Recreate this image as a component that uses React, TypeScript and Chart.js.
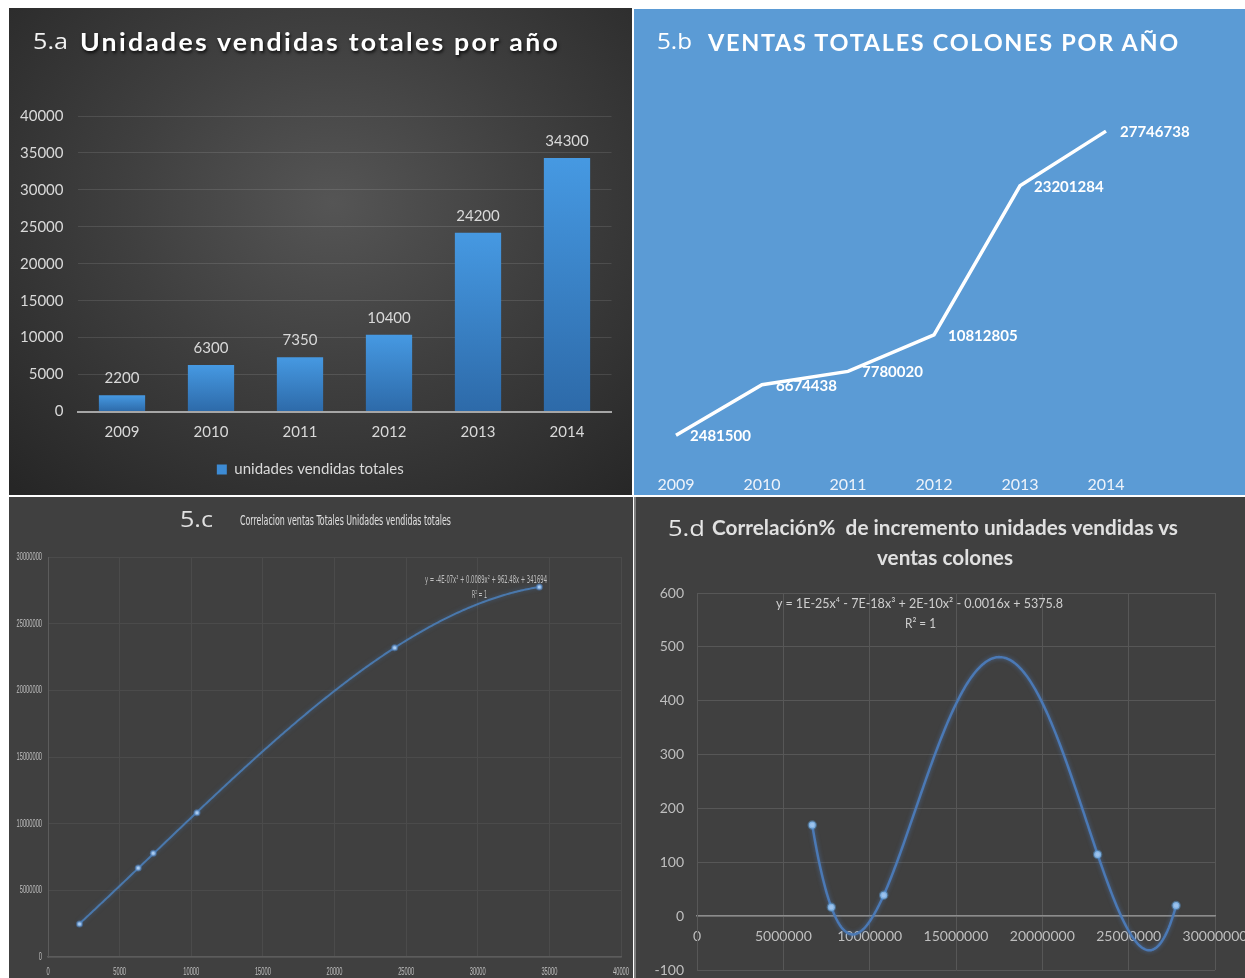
import React, { useEffect, useLayoutEffect, useRef } from "react";
import { Chart, registerables } from "chart.js";
Chart.register(...registerables);

// ---------------- data ----------------
const years = ["2009", "2010", "2011", "2012", "2013", "2014"];
const unidadesVendidas = [2200, 6300, 7350, 10400, 24200, 34300];
const ventasColones = [2481500, 6674438, 7780020, 10812805, 23201284, 27746738];
// 5.d : % increment (2010-2014) against ventas colones
const incrementoX = [6674438, 7780020, 10812805, 23201284, 27746738];
const incrementoPct = [169.0, 16.6, 39.0, 114.6, 19.6];

const unidadesMax = 40000;
const unidadesStep = 5000;
const colonesMax = 30000000;
const colonesStep = 5000000;
const pctMin = -100;
const pctMax = 600;
const pctStep = 100;

const eqC = "y = -4E-07x³ + 0.0089x² + 962.48x + 341694";
const eqD = "y = 1E-25x⁴ - 7E-18x³ + 2E-10x² - 0.0016x + 5375.8";
const r2 = "R² = 1";

const NARROW = "'Liberation Sans Narrow', 'DejaVu Sans Condensed', 'Liberation Sans', sans-serif";

// ---------------- helpers ----------------
function polyfit(xs: number[], ys: number[], deg: number) {
  const xmin = Math.min(...xs), xmax = Math.max(...xs);
  const mid = (xmin + xmax) / 2, half = (xmax - xmin) / 2 || 1;
  const ysc = Math.max(...ys.map(Math.abs)) || 1;
  const X = xs.map((x) => (x - mid) / half), Y = ys.map((y) => y / ysc);
  const n = deg + 1;
  const A: number[][] = [];
  for (let i = 0; i < n; i++) {
    const row: number[] = [];
    for (let j = 0; j < n; j++) row.push(X.reduce((s, x) => s + Math.pow(x, i + j), 0));
    row.push(X.reduce((s, x, k) => s + Y[k] * Math.pow(x, i), 0));
    A.push(row);
  }
  for (let c = 0; c < n; c++) {
    let p = c;
    for (let r = c + 1; r < n; r++) if (Math.abs(A[r][c]) > Math.abs(A[p][c])) p = r;
    const tmp = A[c]; A[c] = A[p]; A[p] = tmp;
    for (let r = 0; r < n; r++) {
      if (r === c) continue;
      const f = A[r][c] / A[c][c];
      for (let k = c; k <= n; k++) A[r][k] -= f * A[c][k];
    }
  }
  const coef = A.map((row, i) => row[n] / row[i]);
  return (x: number) => {
    const t = (x - mid) / half;
    let v = 0;
    for (let i = n - 1; i >= 0; i--) v = v * t + coef[i];
    return v * ysc;
  };
}

const trendPlugin = {
  id: "trend",
  beforeDatasetsDraw(chart: any, _args: any, opts: any) {
    if (!opts || !opts.degree) return;
    const pts = chart.data.datasets[0].data as { x: number; y: number }[];
    const xs = pts.map((p) => p.x), ys = pts.map((p) => p.y);
    const f = polyfit(xs, ys, opts.degree);
    const { ctx, chartArea, scales } = chart;
    const x0 = Math.min(...xs), x1 = Math.max(...xs);
    ctx.save();
    ctx.beginPath();
    ctx.rect(chartArea.left, chartArea.top, chartArea.width, chartArea.height);
    ctx.clip();
    ctx.beginPath();
    const N = 300;
    for (let i = 0; i <= N; i++) {
      const x = x0 + ((x1 - x0) * i) / N;
      const px = scales.x.getPixelForValue(x), py = scales.y.getPixelForValue(f(x));
      if (i) ctx.lineTo(px, py); else ctx.moveTo(px, py);
    }
    ctx.strokeStyle = opts.lineColor;
    ctx.lineWidth = opts.lineWidth;
    ctx.lineJoin = "round";
    ctx.lineCap = "round";
    if (opts.glow) { ctx.shadowColor = opts.glow; ctx.shadowBlur = 4; }
    ctx.stroke();
    ctx.restore();
  },
};

const valueLabelPlugin = {
  id: "valueLabels",
  afterDatasetsDraw(chart: any, _args: any, opts: any) {
    if (!opts || !opts.labelFont) return;
    const meta = chart.getDatasetMeta(0);
    const data = chart.data.datasets[0].data as number[];
    const ctx = chart.ctx;
    ctx.save();
    ctx.font = opts.labelFont;
    ctx.fillStyle = opts.labelColor;
    ctx.textAlign = opts.labelAlign;
    ctx.textBaseline = "middle";
    meta.data.forEach((el: any, i: number) => {
      ctx.fillText(String(data[i]), el.x + opts.dx, el.y + opts.dy);
    });
    ctx.restore();
  },
};

// draws the (very condensed) tick labels of a scale pair, squeezed horizontally
const squeezeTicksPlugin = {
  id: "squeezeTicks",
  afterDraw(chart: any, _args: any, opts: any) {
    if (!opts || !opts.labelFont) return;
    const { ctx, chartArea } = chart;
    const draw = (text: string, x: number, y: number, align: string) => {
      ctx.save();
      ctx.translate(x, y);
      ctx.scale(opts.squeeze, 1);
      ctx.textAlign = align;
      ctx.fillText(text, 0, 0);
      ctx.restore();
    };
    ctx.save();
    ctx.font = opts.labelFont;
    ctx.fillStyle = opts.labelColor;
    ctx.textBaseline = "middle";
    const xs = chart.scales.x;
    xs.ticks.forEach((t: any) => draw(String(t.value), xs.getPixelForValue(t.value), chartArea.bottom + opts.xGap, "center"));
    const ys = chart.scales.y;
    ys.ticks.forEach((t: any) => draw(String(t.value), chartArea.left - opts.yGap, ys.getPixelForValue(t.value), "right"));
    ctx.restore();
  },
};

function ChartBox({ make, width, height }: { make: () => any; width: number; height: number }) {
  const ref = useRef<HTMLCanvasElement>(null);
  useEffect(() => {
    const chart = new Chart(ref.current as HTMLCanvasElement, make());
    return () => chart.destroy();
  }, []);
  return (
    <canvas
      ref={ref}
      width={width}
      height={height}
      style={{ position: "absolute", left: 0, top: 0, width, height, display: "block" }}
    />
  );
}

function FitText({ text, left, cy, width, size, family, weight = 400, color, extra = {} }: any) {
  const ref = useRef<HTMLSpanElement>(null);
  useLayoutEffect(() => {
    const el = ref.current;
    if (!el) return;
    el.style.transform = "none";
    const w = el.getBoundingClientRect().width;
    if (w > 0) el.style.transform = `scaleX(${width / w})`;
  }, [text, width]);
  const lh = Math.round(size * 1.3);
  return (
    <span
      ref={ref}
      style={{
        position: "absolute",
        left,
        top: cy - lh / 2,
        lineHeight: `${lh}px`,
        fontSize: size,
        fontFamily: family,
        fontWeight: weight,
        color,
        whiteSpace: "pre",
        transformOrigin: "0 0",
        ...extra,
      }}
    >
      {text}
    </span>
  );
}

const plain = (v: any) => String(v);

// ---------------- chart configs ----------------
function makeA() {
  return {
    type: "bar",
    data: {
      labels: years,
      datasets: [
        {
          label: "unidades vendidas totales",
          data: unidadesVendidas,
          backgroundColor: (c: any) => {
            const chart = c.chart;
            if (!chart.chartArea || c.type !== "data") return "#3d8bd4";
            const y = chart.scales.y;
            const top = y.getPixelForValue(c.raw);
            const bottom = y.getPixelForValue(0);
            if (!isFinite(top) || !isFinite(bottom) || top === bottom) return "#3d8bd4";
            const g = chart.ctx.createLinearGradient(0, top, 0, bottom);
            g.addColorStop(0, "#4699e2");
            g.addColorStop(1, "#2d6aa9");
            return g;
          },
          borderWidth: 0,
          categoryPercentage: 1,
          barPercentage: 0.52,
        },
      ],
    },
    options: {
      responsive: false,
      animation: false,
      layout: { padding: { top: 108, left: 0, right: 20.5, bottom: 8 } },
      scales: {
        x: {
          grid: { display: false, drawTicks: false },
          border: { display: true, color: "#a6a6a6", width: 2 },
          ticks: { color: "#d9d9d9", font: { family: "Lato", size: 15 }, padding: 12, maxRotation: 0 },
          afterFit: (s: any) => { s.height = 40.5; },
        },
        y: {
          min: 0,
          max: unidadesMax,
          ticks: { stepSize: unidadesStep, color: "#d9d9d9", font: { family: "Lato", size: 15 }, padding: 14, callback: plain },
          grid: { color: "rgba(255,255,255,0.11)", drawTicks: false },
          border: { display: false },
          afterFit: (s: any) => { s.width = 68.5; },
        },
      },
      plugins: {
        legend: {
          position: "bottom",
          labels: {
            boxWidth: 10,
            boxHeight: 10,
            color: "#d9d9d9",
            font: { family: "Lato", size: 15 },
            generateLabels: (chart: any) => {
              const items = (Chart as any).defaults.plugins.legend.labels.generateLabels(chart);
              return items.map((it: any) => ({ ...it, fillStyle: "#3d8bd4", strokeStyle: "#3d8bd4", lineWidth: 0 }));
            },
          },
        },
        tooltip: { enabled: false },
        valueLabels: { labelFont: "15px Lato", labelColor: "#d9d9d9", labelAlign: "center", dx: 0, dy: -17 },
      },
    },
    plugins: [valueLabelPlugin],
  };
}

function makeB() {
  return {
    type: "line",
    data: {
      labels: years,
      datasets: [
        {
          label: "ventas totales colones",
          data: ventasColones,
          borderColor: "#ffffff",
          borderWidth: 3.5,
          pointRadius: 0,
          tension: 0,
          fill: false,
        },
      ],
    },
    options: {
      responsive: false,
      animation: false,
      layout: { padding: { left: 42, right: 139, top: 95, bottom: 0 } },
      scales: {
        x: {
          grid: { display: false, drawTicks: false },
          border: { display: false },
          ticks: { color: "#eef3fa", font: { family: "Lato", size: 16 }, padding: 10, maxRotation: 0, autoSkip: false },
          afterFit: (s: any) => { s.height = 30; },
        },
        y: { display: false, min: 0, max: colonesMax },
      },
      plugins: {
        legend: { display: false },
        tooltip: { enabled: false },
        valueLabels: { labelFont: "bold 15px Lato", labelColor: "#ffffff", labelAlign: "left", dx: 14, dy: 1 },
      },
    },
    plugins: [valueLabelPlugin],
  };
}

function makeC() {
  return {
    type: "scatter",
    data: {
      datasets: [
        {
          label: "ventas vs unidades",
          data: unidadesVendidas.map((u, i) => ({ x: u, y: ventasColones[i] })),
          pointRadius: 2.5,
          pointBackgroundColor: "#a9cbf0",
          pointBorderColor: "rgba(79,129,189,0.6)",
          pointBorderWidth: 2,
          showLine: false,
        },
      ],
    },
    options: {
      responsive: false,
      animation: false,
      layout: { padding: { left: 0, right: 12, top: 60, bottom: 0 } },
      scales: {
        x: {
          type: "linear",
          min: 0,
          max: unidadesMax,
          ticks: { stepSize: unidadesStep, display: false },
          grid: { color: "#4b4b4b", drawTicks: false },
          border: { color: "#5c5c5c", width: 1.5 },
          afterFit: (s: any) => { s.height = 21; },
        },
        y: {
          min: 0,
          max: colonesMax,
          ticks: { stepSize: colonesStep, display: false },
          grid: { color: "#4b4b4b", drawTicks: false },
          border: { color: "#5c5c5c" },
          afterFit: (s: any) => { s.width = 39; },
        },
      },
      plugins: {
        legend: { display: false },
        tooltip: { enabled: false },
        trend: { degree: 3, lineColor: "#4a78ac", lineWidth: 2, glow: "rgba(70,120,180,0.5)" },
        squeezeTicks: { labelFont: "11px 'Liberation Sans', sans-serif", labelColor: "#bfbfbf", squeeze: 0.52, xGap: 15, yGap: 6 },
      },
    },
    plugins: [trendPlugin, squeezeTicksPlugin],
  };
}

function makeD() {
  return {
    type: "scatter",
    data: {
      datasets: [
        {
          label: "incremento %",
          data: incrementoX.map((x, i) => ({ x, y: incrementoPct[i] })),
          pointRadius: 3.5,
          pointBackgroundColor: "#9cc2ec",
          pointBorderColor: "rgba(91,155,213,0.45)",
          pointBorderWidth: 2.5,
          showLine: false,
        },
      ],
    },
    options: {
      responsive: false,
      animation: false,
      layout: { padding: { left: 0, right: 30, top: 96, bottom: 8 } },
      scales: {
        x: {
          type: "linear",
          position: { y: 0 },
          min: 0,
          max: colonesMax,
          ticks: { stepSize: colonesStep, color: "#bfbfbf", font: { family: "Lato", size: 14 }, padding: 12, callback: plain, maxRotation: 0 },
          grid: { color: "#575757", drawTicks: false },
          border: { color: "#8c8c8c", width: 1.5 },
          afterFit: (s: any) => { s.paddingRight = 0; s.paddingLeft = 0; s.height = 0; },
        },
        y: {
          min: pctMin,
          max: pctMax,
          ticks: { stepSize: pctStep, color: "#bfbfbf", font: { family: "Lato", size: 14 }, padding: 13, callback: plain },
          grid: { color: "#575757", drawTicks: false },
          border: { color: "#575757" },
          afterFit: (s: any) => { s.width = 63; s.paddingTop = 0; s.paddingBottom = 0; },
        },
      },
      plugins: {
        legend: { display: false },
        tooltip: { enabled: false },
        trend: { degree: 4, lineColor: "#4b79b5", lineWidth: 2.5, glow: "rgba(80,130,200,0.6)" },
      },
    },
    plugins: [trendPlugin],
  };
}

// ---------------- layout ----------------
export default function App() {
  return (
    <div style={{ position: "absolute", left: 0, top: 0, width: 1245, height: 978, background: "#ffffff", overflow: "hidden" }}>
      {/* 5.a */}
      <div
        style={{
          position: "absolute", left: 9, top: 8, width: 623, height: 487, overflow: "hidden",
          background: "radial-gradient(ellipse 75% 80% at 52% 40%, #555555 0%, #3f3f3f 45%, #262626 100%)",
        }}
      >
        <ChartBox make={makeA} width={623} height={487} />
        <FitText text="5.a" left={24} cy={32} width={35} size={22} family="'Open Sans', sans-serif" color="#f2f2f2" />
        <FitText
          text="Unidades vendidas totales por año" left={71} cy={33} width={480} size={24}
          family="Lato, sans-serif" weight={700} color="#ffffff"
          extra={{ letterSpacing: "2px", textShadow: "1px 2px 3px rgba(0,0,0,0.8)" }}
        />
      </div>

      {/* 5.b */}
      <div style={{ position: "absolute", left: 634, top: 9, width: 611, height: 486, overflow: "hidden", background: "#5b9bd5" }}>
        <ChartBox make={makeB} width={611} height={486} />
        <FitText text="5.b" left={23} cy={31} width={35} size={22} family="'Open Sans', sans-serif" color="#ffffff" />
        <FitText
          text="VENTAS TOTALES COLONES POR AÑO" left={74} cy={33} width={472} size={22}
          family="Lato, sans-serif" weight={700} color="#ffffff" extra={{ letterSpacing: "1.6px" }}
        />
      </div>

      {/* 5.c */}
      <div style={{ position: "absolute", left: 9, top: 497, width: 624, height: 481, overflow: "hidden", background: "#404040" }}>
        <ChartBox make={makeC} width={624} height={481} />
        <FitText text="5.c" left={171} cy={21} width={33} size={22} family="'Open Sans', sans-serif" color="#e0e0e0" />
        <FitText
          text="Correlacion ventas Totales Unidades vendidas totales" left={231} cy={23} width={211} size={14}
          family={NARROW} color="#e0e0e0"
        />
        <FitText text={eqC} left={416} cy={82} width={122} size={10} family={NARROW} color="#bfbfbf" />
        <FitText text={r2} left={463} cy={97} width={15} size={10} family={NARROW} color="#bfbfbf" />
      </div>

      {/* 5.d */}
      <div style={{ position: "absolute", left: 634, top: 497, width: 611, height: 481, overflow: "hidden", background: "#404040" }}>
        <ChartBox make={makeD} width={611} height={481} />
        <div style={{ position: "absolute", left: 0, top: 0, width: 2, height: 481, background: "#7f7f7f" }} />
        <FitText text="5.d" left={34} cy={30} width={37} size={22} family="'Open Sans', sans-serif" color="#e6e6e6" />
        <FitText
          text="Correlación%  de incremento unidades vendidas vs" left={78} cy={30} width={466} size={20}
          family="Lato, sans-serif" weight={700} color="#e0e0e0"
        />
        <FitText text="ventas colones" left={243} cy={60} width={136} size={20} family="Lato, sans-serif" weight={700} color="#e0e0e0" />
        <FitText text={eqD} left={142} cy={106} width={287} size={14} family="Lato, sans-serif" color="#cfcfcf" />
        <FitText text={r2} left={271} cy={126} width={31} size={14} family="Lato, sans-serif" color="#cfcfcf" />
      </div>
    </div>
  );
}
